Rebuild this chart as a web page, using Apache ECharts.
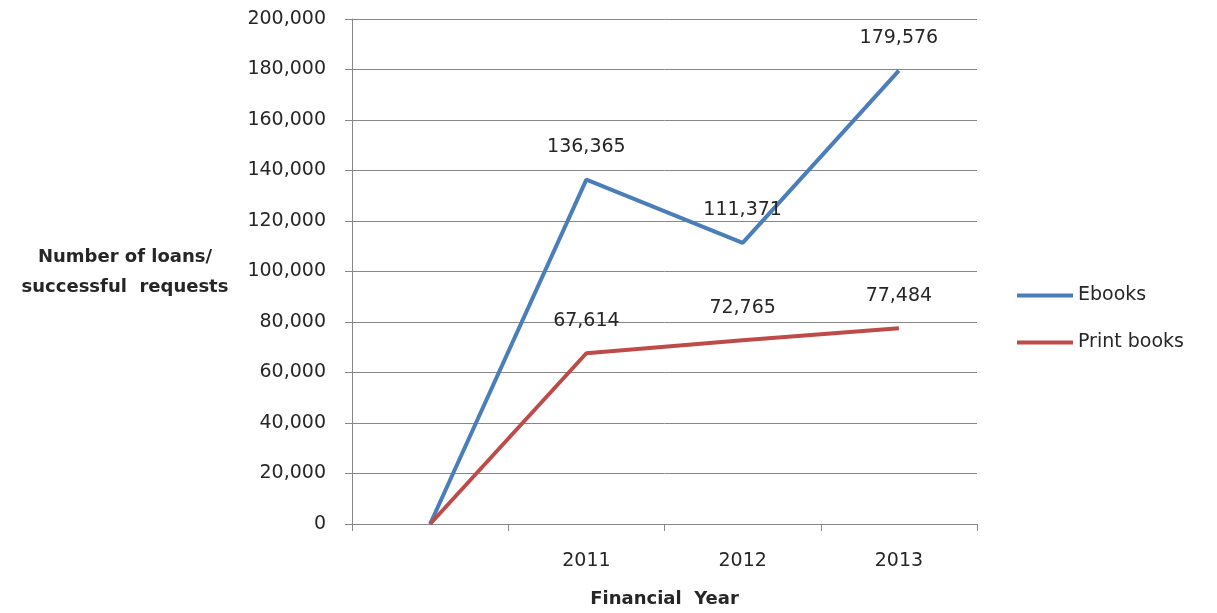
<!DOCTYPE html>
<html>
<head>
<meta charset="utf-8">
<script src="https://cdn.jsdelivr.net/npm/echarts@6/dist/echarts.min.js"></script>
<style>
html,body{margin:0;padding:0;background:#fff;overflow:hidden;}
#chart{width:1217px;height:613px;}
</style>
</head>
<body>
<div id="chart"></div>
<script>
const categories = ['', '2011', '2012', '2013'];
const ebooks = [0, 136365, 111371, 179576];
const printBooks = [0, 67614, 72765, 77484];
const yTicks = { min: 0, max: 200000, interval: 20000 };

const FONT = 'DejaVu Sans';
const gridColor = '#878787';
const textColor = '#262626';

function toData(arr) {
  return arr.map((v, i) => i === 0 ? { value: v, label: { show: false } } : v);
}
function fmt(v) { return v.toLocaleString('en-US'); }

const chart = echarts.init(document.getElementById('chart'), null, { width: 1217, height: 613 });
chart.setOption({
  animation: false,
  backgroundColor: '#ffffff',
  textStyle: { fontFamily: FONT },
  grid: { left: 352, width: 625, top: 19, height: 507, containLabel: false },
  legend: {
    orient: 'vertical',
    left: 1012,
    top: 281,
    itemWidth: 56,
    itemHeight: 4,
    itemGap: 28,
    icon: 'rect',
    textStyle: { fontFamily: FONT, fontSize: 19, color: textColor },
    data: ['Ebooks', 'Print books']
  },
  xAxis: {
    type: 'category',
    data: categories,
    boundaryGap: true,
    name: 'Financial  Year',
    nameLocation: 'middle',
    nameGap: 66,
    nameTextStyle: { fontFamily: FONT, fontSize: 18, fontWeight: 'bold', color: textColor },
    axisLine: { lineStyle: { color: gridColor, width: 1 } },
    axisTick: { show: true, length: 7, lineStyle: { color: gridColor } },
    axisLabel: { margin: 28, fontFamily: FONT, fontSize: 19, color: textColor },
    splitLine: { show: false }
  },
  yAxis: {
    type: 'value',
    min: yTicks.min,
    max: yTicks.max,
    interval: yTicks.interval,
    axisLine: { show: true, lineStyle: { color: gridColor, width: 1 } },
    axisTick: { show: true, length: 7, lineStyle: { color: gridColor } },
    axisLabel: { margin: 26, fontFamily: FONT, fontSize: 19, color: textColor, formatter: fmt },
    splitLine: { show: true, lineStyle: { color: gridColor, width: 1 } }
  },
  graphic: [{
    type: 'text',
    x: 125,
    y: 272,
    style: {
      text: 'Number of loans/\nsuccessful  requests',
      fontFamily: FONT,
      fontSize: 18,
      fontWeight: 'bold',
      fill: textColor,
      align: 'center',
      verticalAlign: 'middle',
      lineHeight: 30
    }
  }],
  series: [
    {
      name: 'Ebooks',
      type: 'line',
      data: toData(ebooks),
      symbol: 'circle',
      symbolSize: 0,
      showSymbol: true,
      lineStyle: { color: '#4A7EBB', width: 4 },
      itemStyle: { color: '#4A7EBB' },
      label: { show: true, position: 'top', distance: 23, fontFamily: FONT, fontSize: 19, color: textColor, formatter: p => fmt(p.value) }
    },
    {
      name: 'Print books',
      type: 'line',
      data: toData(printBooks),
      symbol: 'circle',
      symbolSize: 0,
      showSymbol: true,
      lineStyle: { color: '#BE4B48', width: 4 },
      itemStyle: { color: '#BE4B48' },
      label: { show: true, position: 'top', distance: 23, fontFamily: FONT, fontSize: 19, color: textColor, formatter: p => fmt(p.value) }
    }
  ]
});
</script>
</body>
</html>
